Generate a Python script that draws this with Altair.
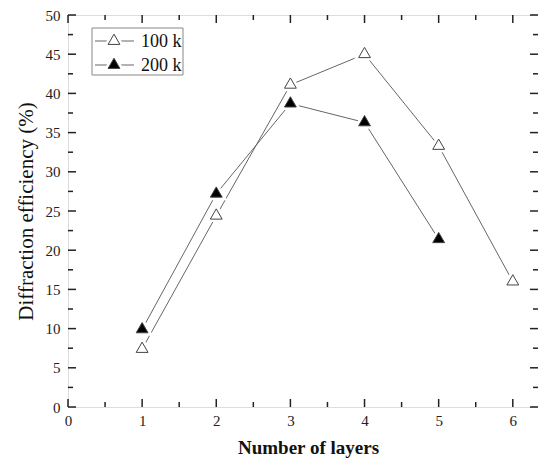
import altair as alt
import pandas as pd

layers_100k = [1, 2, 3, 4, 5, 6]
eff_100k = [7.4, 24.4, 41.1, 45.0, 33.3, 16.0]
layers_200k = [1, 2, 3, 4, 5]
eff_200k = [9.9, 27.2, 38.7, 36.3, 21.4]
series_names = ["100 k", "200 k"]

x_major = [0, 1, 2, 3, 4, 5, 6]
x_minor = [0.5, 1.5, 2.5, 3.5, 4.5, 5.5]
y_major = [0, 5, 10, 15, 20, 25, 30, 35, 40, 45, 50]
y_minor = [2.5, 7.5, 12.5, 17.5, 22.5, 27.5, 32.5, 37.5, 42.5, 47.5]

W, H = 470, 392
FONT = "Liberation Serif"

df = pd.concat([
    pd.DataFrame({"layers": layers_100k, "eff": eff_100k, "series": series_names[0]}),
    pd.DataFrame({"layers": layers_200k, "eff": eff_200k, "series": series_names[1]}),
])

xs = alt.Scale(domain=[0, 6.34], nice=False, zero=False)
ys = alt.Scale(domain=[0, 50], nice=False, zero=False)

XAX = alt.Axis(
    values=x_major, format="d", ticks=False, grid=False, domain=False,
    title="Number of layers", titleFont=FONT, titleFontSize=19, titleFontWeight="bold",
    titleColor="#111", titlePadding=10, titleX=240, titleAlign="center",
    labelFont=FONT, labelFontSize=15,
    labelColor="#222", labelPadding=6, labelFlush=False, labelOverlap=False)
YAX = alt.Axis(
    values=y_major, format="d", ticks=False, grid=False, domain=False,
    title="Diffraction efficiency (%)", titleFont=FONT, titleFontSize=21,
    titleFontWeight="normal", titleColor="#111", titlePadding=9,
    labelFont=FONT, labelFontSize=15, labelColor="#222", labelPadding=8,
    labelFlush=False, labelOverlap=False)

def X(f):
    return alt.X(f, scale=xs, axis=XAX)
def Y(f):
    return alt.Y(f, scale=ys, axis=YAX)

fill_scale = alt.Scale(domain=series_names, range=["white", "black"])

lines = alt.Chart(df).mark_line(color="#666", strokeWidth=1).encode(
    x=X("layers:Q"), y=Y("eff:Q"), detail="series:N")
halo = alt.Chart(df).mark_point(shape="triangle", size=140, filled=True,
                                fill="white", stroke="white", strokeWidth=6,
                                opacity=1).encode(x=X("layers:Q"), y=Y("eff:Q"))
pts = alt.Chart(df).mark_point(shape="triangle", size=140, filled=True,
                               stroke="#444", strokeWidth=1, opacity=1).encode(
    x=X("layers:Q"), y=Y("eff:Q"),
    fill=alt.Fill("series:N", scale=fill_scale, legend=None))

tick_col = "#222"
def xticks(vals, ln):
    d = pd.DataFrame({"layers": vals})
    b = alt.Chart(d).mark_rule(color=tick_col, strokeWidth=1.5).encode(
        x=X("layers:Q"), y=alt.value(H), y2=alt.value(H - ln))
    t = alt.Chart(d).mark_rule(color=tick_col, strokeWidth=1.5).encode(
        x=X("layers:Q"), y=alt.value(0), y2=alt.value(ln))
    return b + t
def yticks(vals, ln):
    d = pd.DataFrame({"eff": vals})
    l = alt.Chart(d).mark_rule(color=tick_col, strokeWidth=1.5).encode(
        y=Y("eff:Q"), x=alt.value(0), x2=alt.value(ln))
    r = alt.Chart(d).mark_rule(color=tick_col, strokeWidth=1.5).encode(
        y=Y("eff:Q"), x=alt.value(W), x2=alt.value(W - ln))
    return l + r

ticks = xticks(x_major, 8) + xticks(x_minor, 5) + yticks(y_major, 8) + yticks(y_minor, 5)

# legend
one = pd.DataFrame({"a": [0]})
box = alt.Chart(one).mark_rect(fill="white", stroke="#888", strokeWidth=1).encode(
    x=alt.value(24), x2=alt.value(115), y=alt.value(13), y2=alt.value(60))
leg = box
for i, (name, fc) in enumerate(zip(series_names, ["white", "black"])):
    yy = 26 + 24 * i
    leg += alt.Chart(one).mark_rule(color="#666", strokeWidth=1).encode(
        x=alt.value(27), x2=alt.value(66), y=alt.value(yy))
    leg += alt.Chart(one).mark_point(shape="triangle", size=140, filled=True,
                                     fill="white", stroke="white", strokeWidth=6,
                                     opacity=1).encode(x=alt.value(46), y=alt.value(yy))
    leg += alt.Chart(one).mark_point(shape="triangle", size=140, filled=True,
                                     fill=fc, stroke="#444", strokeWidth=1,
                                     opacity=1).encode(x=alt.value(46), y=alt.value(yy))
    leg += alt.Chart(pd.DataFrame({"t": [name]})).mark_text(
        font=FONT, fontSize=18, align="left", baseline="middle", color="#111").encode(
        x=alt.value(73), y=alt.value(yy + 1), text="t:N")

chart = alt.layer(lines, halo, pts, ticks, leg).properties(
    width=W, height=H,
    autosize=alt.AutoSizeParams(type="none"),
    padding={"left": 60, "top": 7, "right": 0, "bottom": 51},
).configure_view(stroke="#222", strokeWidth=1.5).configure(background="white")

chart.save("out.html", embed_options={"renderer": "svg", "actions": False})
